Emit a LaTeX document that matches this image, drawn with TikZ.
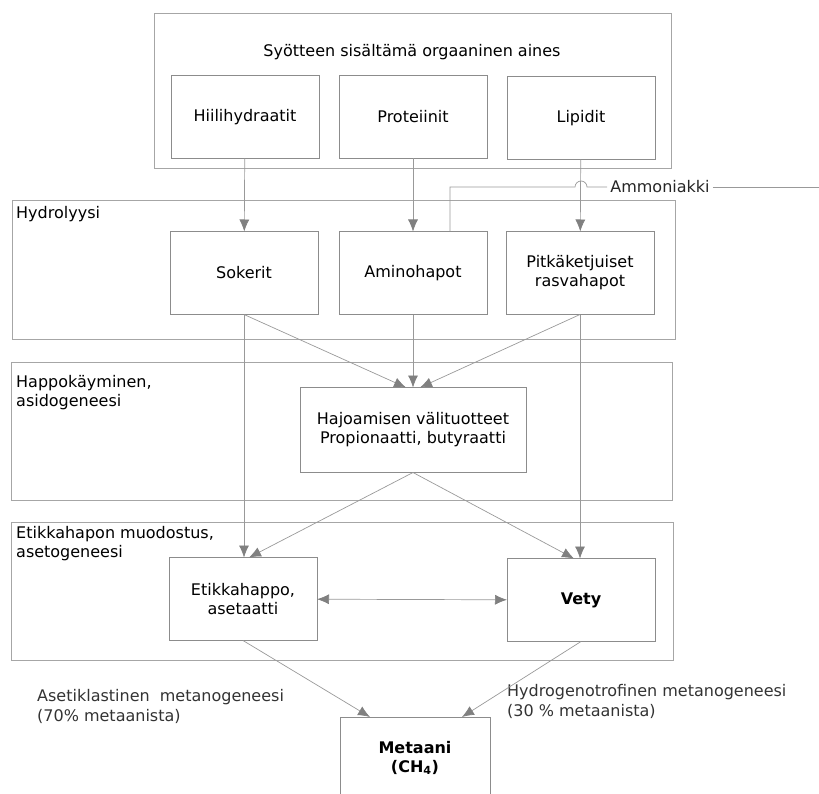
\documentclass[tikz,border=0pt]{standalone}
\usepackage{fontspec}
\setmainfont{DejaVu Sans}
\usepackage{tikz}
\usetikzlibrary{arrows.meta,positioning,calc}
\tikzstyle{stage} = [draw=black!35,line width=0.6pt,inner sep=0pt,outer sep=0pt,anchor=north west]
\tikzstyle{stagetext} = [inner sep=0pt,anchor=north west,align=left]
\tikzstyle{box} = [draw=black!45,fill=white,line width=0.6pt,minimum width=148pt,minimum height=83pt,inner sep=2pt,outer sep=0pt,align=center]
\tikzstyle{flow} = [draw=black!40,line width=0.7pt,arrows={-Latex[length=12pt,width=10pt,color=black!50]}]
\tikzstyle{both} = [draw=black!40,line width=0.7pt,arrows={Latex[length=12pt,width=10pt,color=black!50]-Latex[length=12pt,width=10pt,color=black!50]}]
\tikzstyle{link} = [draw=black!40,line width=0.7pt]
\tikzstyle{note} = [inner sep=0pt,anchor=north west,align=left,text=black!80,font=\fontsize{16}{20}\selectfont]

\begin{document}
\begin{tikzpicture}[x=1pt,y=-1pt,font=\fontsize{16}{19}\selectfont]
		\useasboundingbox (0,0) rectangle (819,794);
		% vaiheet
		\node (syote)[stage,minimum width=517pt,minimum height=155pt] at (154,13) {};
		\node (hydro)[stage,minimum width=663pt,minimum height=139pt] at (12,200) {};
		\node (happo)[stage,minimum width=661pt,minimum height=138pt] at (11,362) {};
		\node (etikka)[stage,minimum width=662pt,minimum height=138pt] at (11,522) {};

		\node (otsikko) at (412,52) {Syötteen sisältämä orgaaninen aines};
		\node (thydro)[stagetext] at (16,206) {Hydrolyysi};
		\node (thappo)[stagetext] at (16,375) {Happokäyminen,\\asidogeneesi};
		\node (tetikka)[stagetext] at (16,526) {Etikkahapon muodostus,\\asetogeneesi};

		\node (hiili)[box] at (245,117) {Hiilihydraatit};
		\node (prot)[box] at (413,117) {Proteiinit};
		\node (lip)[box] at (581,118) {Lipidit};

		\node (sok)[box] at (244,273) {Sokerit};
		\node (amino)[box] at (413,273) {Aminohapot};
		\node (pitka)[box] at (580,273) {Pitkäketjuiset\\rasvahapot};

		\node (haj)[box,minimum width=226pt,minimum height=85pt] at (413,430) {Hajoamisen välituotteet\\Propionaatti, butyraatti};

		\node (etik)[box] at (243,599) {Etikkahappo,\\asetaatti};
		\node (vety)[box,font=\fontsize{16}{19}\selectfont\bfseries] at (581,600) {Vety};

		\node (met)[box,minimum width=150pt,minimum height=82pt,font=\fontsize{16}{19}\selectfont\bfseries] at (415,758) {Metaani\\(CH\textsubscript{4})};

		\node (aset)[note] at (37,689) {Asetiklastinen \ metanogeneesi\\(70\% metaanista)};
		\node (vetyn)[note] at (507,684) {Hydrogenotrofinen metanogeneesi\\(30 \% metaanista)};

		% ammoniakki
		\node (amm)[inner sep=3pt,text=black!85] at (660,187) {Ammoniakki};
		\coordinate (ammend) at (819,187);
		\draw[link] ([xshift=37pt]amino.north) |- ([xshift=-6pt]lip.south |- amm.west) arc[start angle=180,end angle=0,radius=6pt] -- (amm.west);
		\draw[link] (amm.east) -- (ammend);

		\draw[flow] (hiili) -- (sok);
		\draw[flow] (prot) -- (amino);
		\draw[flow] (lip) -- (pitka);

		\draw[flow] (sok.south) -- ([xshift=-7pt]haj.north);
		\draw[flow] (amino.south) -- (haj.north);
		\draw[flow] (pitka.south) -- ([xshift=7pt]haj.north);

		\draw[flow] (sok.south) -- (sok.south |- etik.north);
		\draw[flow] (pitka.south) -- (pitka.south |- vety.north);
		\draw[flow] (haj.south) -- ([xshift=6pt]etik.north);
		\draw[flow] (haj.south) -- ([xshift=-7pt]vety.north);

		\draw[both] (etik) -- (vety);

		\draw[flow] (etik.south) -- ([xshift=-45pt]met.north);
		\draw[flow] (vety.south) -- ([xshift=47pt]met.north);
	\end{tikzpicture}
\end{document}
